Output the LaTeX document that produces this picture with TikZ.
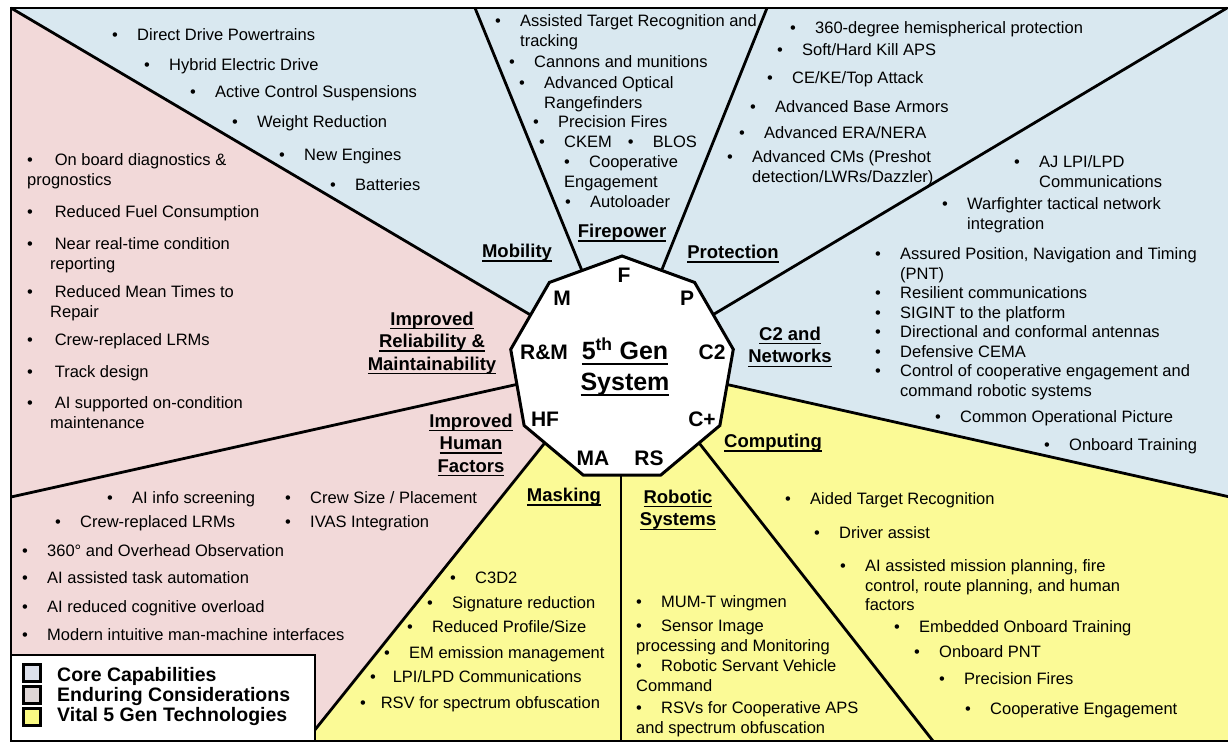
\documentclass[tikz,border=0pt]{standalone}
\usepackage{fontspec}
\setmainfont{Liberation Sans}
\usetikzlibrary{shapes.geometric}
\definecolor{coreblue}{RGB}{217,232,240}
\definecolor{endpink}{RGB}{242,217,217}
\definecolor{vitalyel}{RGB}{251,250,150}
\definecolor{keycore}{RGB}{221,225,236}
\definecolor{keyend}{RGB}{222,214,214}
\definecolor{keyvital}{RGB}{250,250,130}
\newcommand\bl[1][25pt]{\strut\makebox[#1][l]{\textbullet}}
\newcommand\hg{\makebox[25pt]{}}
\newsavebox\ulbox
\newcommand\ulx[1]{\sbox\ulbox{#1}\rlap{\rule[-0.22em]{\wd\ulbox}{0.075em}}\usebox\ulbox}
\begin{document}
\begin{tikzpicture}[x=1pt,y=-1pt,
  divider/.style={line width=2.8pt},
  itm/.style={anchor=north west, inner sep=0pt, align=left, font=\fontsize{16.5}{19.5}\selectfont},
  heading/.style={inner sep=0pt, align=center, font=\bfseries\fontsize{18.5}{22.5}\selectfont},
  vlabel/.style={inner sep=0pt, font=\bfseries\fontsize{21}{24}\selectfont},
  swatch/.style={draw, line width=2.5pt, minimum size=17pt, inner sep=0pt},
  keytext/.style={anchor=west, inner sep=0pt, text height=14pt, text depth=0pt, font=\bfseries\fontsize{19.5}{22}\selectfont}]

\useasboundingbox (0,0) rectangle (1228,744);
\fill[white] (0,0) rectangle (1228,744);

\coordinate (ctr) at (622,369);
\coordinate (bA) at (11,8);
\coordinate (bB) at (475,8);
\coordinate (bC) at (767,8);
\coordinate (bD) at (1227,8);
\coordinate (bE) at (1230,497);
\coordinate (bF) at (933,741);
\coordinate (bG) at (621,741);
\coordinate (bH) at (306,741);
\coordinate (bI) at (11,497);
\coordinate (iE) at (622,361);
\coordinate (iF) at (641,369);
\coordinate (iG) at (621,369);
\coordinate (iH) at (604,369);

\fill[coreblue] (bA) rectangle (1230,741);
\fill[endpink] (ctr) -- (bA) -- (11,741) -- (bH) -- (iH) -- cycle;
\fill[vitalyel] (iH) -- (bH) -- (1230,741) -- (bE) -- (iE) -- cycle;

\draw[divider] (ctr) -- (bA);
\draw[divider] (ctr) -- (bB);
\draw[divider] (ctr) -- (bC);
\draw[divider] (ctr) -- (bD);
\draw[divider] (iE) -- (bE);
\draw[divider] (iF) -- (bF);
\draw[divider] (iG) -- (bG);
\draw[divider] (iH) -- (bH);
\draw[divider] (iE) -- (bI);

\node[regular polygon, regular polygon sides=9, minimum size=226pt, inner sep=0pt, outer sep=0pt,
  draw, fill=white, line width=3pt] (sys) at (ctr) {};
\draw[line width=2.8pt] (bA) rectangle (1230,741);

\node[inner sep=0pt, align=center, font=\bfseries\fontsize{25}{31}\selectfont] (gen) at (625,367)
  {\ulx{5\textsuperscript{th} Gen}\\\ulx{System}};
\node[vlabel] (vF) at (624,275) {F};
\node[vlabel] (vP) at (687,298) {P};
\node[vlabel] (vC2) at (712,352) {C2};
\node[vlabel] (vCp) at (702,419) {C+};
\node[vlabel] (vRS) at (649,458) {RS};
\node[vlabel] (vMA) at (593,458) {MA};
\node[vlabel] (vHF) at (545,419) {HF};
\node[vlabel] (vRM) at (544,352) {R\&M};
\node[vlabel] (vM) at (562,298) {M};

\node[heading] (mob) at (517,253) {\ulx{Mobility}};
\node[heading] (fire) at (622,233) {\ulx{Firepower}};
\node[heading] (prot) at (733,254) {\ulx{Protection}};
\node[heading] (net) at (790,347) {\ulx{C2 and}\\\ulx{Networks}};
\node[heading] (comp) at (773,443) {\ulx{Computing}};
\node[heading] (robo) at (678,510) {\ulx{Robotic}\\\ulx{Systems}};
\node[heading] (mask) at (564,497) {\ulx{Masking}};
\node[heading] (human) at (471,445) {\ulx{Improved}\\\ulx{Human}\\\ulx{Factors}};
\node[heading] (rel) at (432,343) {\ulx{Improved}\\\ulx{Reliability \&}\\\ulx{Maintainability}};

\node[itm] (mob1) at (112,27) {\bl Direct Drive Powertrains};
\node[itm] (mob2) at (144,57) {\bl Hybrid Electric Drive};
\node[itm] (mob3) at (190,84) {\bl Active Control Suspensions};
\node[itm] (mob4) at (232,114) {\bl Weight Reduction};
\node[itm] (mob5) at (279,147) {\bl New Engines};
\node[itm] (mob6) at (330,177) {\bl Batteries};

\node[itm] (fire1) at (495,13) {\bl Assisted Target Recognition and\\\hg tracking};
\node[itm] (fire2) at (509,54) {\bl Cannons and munitions};
\node[itm] (fire3) at (519,75) {\bl Advanced Optical\\\hg Rangefinders};
\node[itm] (fire4) at (533,114) {\bl Precision Fires};
\node[itm] (fire5) at (539,134) {\bl CKEM\hspace{16pt}\bl BLOS};
\node[itm] (fire6) at (564,154) {\bl Cooperative\\Engagement};
\node[itm] (fire7) at (565,194) {\bl Autoloader};

\node[itm] (prot1) at (790,20) {\bl 360-degree hemispherical protection};
\node[itm] (prot2) at (777,42) {\bl Soft/Hard Kill APS};
\node[itm] (prot3) at (767,70) {\bl CE/KE/Top Attack};
\node[itm] (prot4) at (750,99) {\bl Advanced Base Armors};
\node[itm] (prot5) at (739,125) {\bl Advanced ERA/NERA};
\node[itm] (prot6) at (727,149) {\bl Advanced CMs (Preshot\\\hg detection/LWRs/Dazzler)};

\node[itm] (net1) at (1014,154) {\bl AJ LPI/LPD\\\hg Communications};
\node[itm] (net2) at (942,196) {\bl Warfighter tactical network\\\hg integration};
\node[itm] (net3) at (875,246) {\bl Assured Position, Navigation and Timing\\\hg (PNT)\\
  \bl Resilient communications\\\bl SIGINT to the platform\\\bl Directional and conformal antennas\\
  \bl Defensive CEMA\\\bl Control of cooperative engagement and\\\hg command robotic systems};
\node[itm] (net4) at (935,409) {\bl Common Operational Picture};
\node[itm] (net5) at (1044,437) {\bl Onboard Training};

\node[itm] (comp1) at (785,491) {\bl Aided Target Recognition};
\node[itm] (comp2) at (814,525) {\bl Driver assist};
\node[itm] (comp3) at (840,558) {\bl AI assisted mission planning, fire\\\hg control, route planning, and human\\\hg factors};
\node[itm] (comp4) at (894,619) {\bl Embedded Onboard Training};
\node[itm] (comp5) at (914,644) {\bl Onboard PNT};
\node[itm] (comp6) at (939,671) {\bl Precision Fires};
\node[itm] (comp7) at (965,701) {\bl Cooperative Engagement};

\node[itm] (robo1) at (636,594) {\bl MUM-T wingmen};
\node[itm] (robo2) at (636,618) {\bl Sensor Image\\processing and Monitoring};
\node[itm] (robo3) at (636,658) {\bl Robotic Servant Vehicle\\Command};
\node[itm] (robo4) at (636,700) {\bl RSVs for Cooperative APS\\and spectrum obfuscation};

\node[itm] (mask1) at (450,570) {\bl C3D2};
\node[itm] (mask2) at (427,595) {\bl Signature reduction};
\node[itm] (mask3) at (407,619) {\bl Reduced Profile/Size};
\node[itm] (mask4) at (384,645) {\bl EM emission management};
\node[itm] (mask5) at (370,669) {\bl[18pt] LPI/LPD Communications};
\node[itm] (mask6) at (360,695) {\bl[16pt] RSV for spectrum obfuscation};

\node[itm] (hum1) at (107,490) {\bl AI info screening};
\node[itm] (hum2) at (285,490) {\bl Crew Size / Placement};
\node[itm] (hum3) at (55,514) {\bl Crew-replaced LRMs};
\node[itm] (hum4) at (285,514) {\bl IVAS Integration};
\node[itm] (hum5) at (22,543) {\bl 360° and Overhead Observation};
\node[itm] (hum6) at (22,570) {\bl AI assisted task automation};
\node[itm] (hum7) at (22,599) {\bl AI reduced cognitive overload};
\node[itm] (hum8) at (22,627) {\bl Modern intuitive man-machine interfaces};

\node[itm] (rel1) at (27,152) {\bl[23pt] On board diagnostics \&\\prognostics};
\node[itm] (rel2) at (27,204) {\bl[23pt] Reduced Fuel Consumption};
\node[itm] (rel3) at (27,236) {\bl[23pt] Near real-time condition\\\hspace*{23pt}reporting};
\node[itm] (rel4) at (27,284) {\bl[23pt] Reduced Mean Times to\\\hspace*{23pt}Repair};
\node[itm] (rel5) at (27,332) {\bl[23pt] Crew-replaced LRMs};
\node[itm] (rel6) at (27,364) {\bl[23pt] Track design};
\node[itm] (rel7) at (27,395) {\bl[23pt] AI supported on-condition\\\hspace*{23pt}maintenance};

\draw[line width=2.8pt, fill=white] (11,655) rectangle (315,741);
\node[swatch, fill=keycore] (kcore) at (32,673) {};
\node[swatch, fill=keyend] (kend) at (32,695) {};
\node[swatch, fill=keyvital] (kvital) at (32,717) {};
\node[keytext] (tcore) at (57,674) {Core Capabilities};
\node[keytext] (tend) at (57,694) {Enduring Considerations};
\node[keytext] (tvital) at (57,714) {Vital 5 Gen Technologies};

\end{tikzpicture}
\end{document}
